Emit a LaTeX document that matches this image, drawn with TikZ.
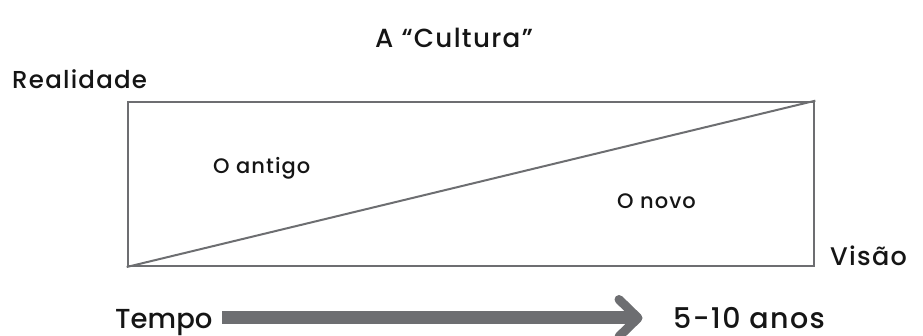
\documentclass[tikz,border=0pt]{standalone}
\usepackage{fontspec}
\usetikzlibrary{calc}
\setmainfont{Poppins Medium}[LetterSpace=5]
\definecolor{linegray}{HTML}{6D6E71}
\definecolor{ink}{HTML}{151515}
\begin{document}
\begin{tikzpicture}[x=1pt,y=-1pt,
  lbl/.style={inner sep=0pt, text=ink},
  frame/.style={draw=linegray, line width=2pt, inner sep=0pt},
  thin/.style={draw=linegray, line width=2pt},
  shaft/.style={draw=linegray, line width=13pt},
  head/.style={draw=linegray, line width=9pt, line cap=round, line join=round}]
\useasboundingbox (0,0) rectangle (923,336);

% title and axis labels
\node[lbl, anchor=base, font=\fontsize{26.2}{32}\selectfont] (title) at (454,48) {A “Cultura”};
\node[lbl, anchor=base west, font=\fontsize{24.5}{30}\selectfont] (real) at (12,89) {Realidade};
\node[lbl, anchor=base west, font=\fontsize{25.5}{30}\selectfont] (visao) at (830,265.5) {Visão};

% the box split by its diagonal
\node[frame, minimum width=686.6pt, minimum height=164.3pt, anchor=north west] (box) at (126.7,100.7) {};
\draw[thin] (box.south west) -- (box.north east);
\node[lbl, anchor=base west, font=\fontsize{21}{25}\selectfont] (old) at (213,174) {O antigo};
\node[lbl, anchor=base west, font=\fontsize{21}{25}\selectfont] (new) at (617,209) {O novo};

% time axis
\node[lbl, anchor=base west, font=\fontsize{27.5}{34}\selectfont\addfontfeatures{LetterSpace=0}] (tempo) at (115,328) {Tempo};
\node[lbl, anchor=base west, font=\fontsize{28.5}{34}\selectfont] (anos) at (673,328) {5-10 anos};
\coordinate (a0) at (222,318);
\coordinate (a1) at (634,318);
\coordinate (tip) at (638,318);
\draw[shaft] (a0) -- (a1);
\draw[head] ($(tip)+(-19,-18.5)$) -- (tip) -- ($(tip)+(-19,18.5)$);
\end{tikzpicture}
\end{document}
